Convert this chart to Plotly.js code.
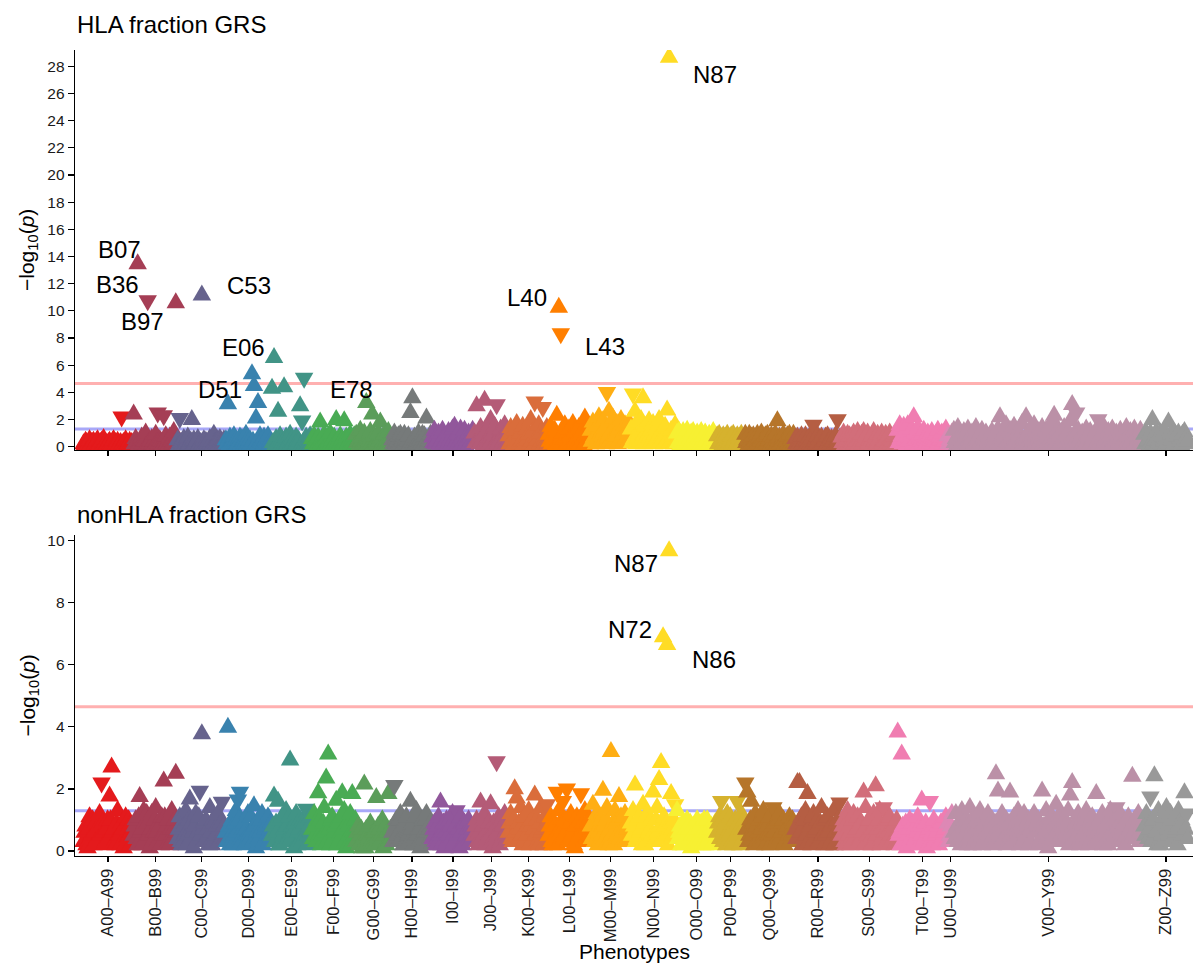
<!DOCTYPE html>
<html>
<head>
<meta charset="utf-8">
<script src="https://cdn.plot.ly/plotly-3.0.1.min.js"></script>
<style>
  html, body { margin: 0; padding: 0; background: #ffffff; }
  #chart { width: 1193px; height: 963px; }
</style>
</head>
<body>
<div id="chart"></div>
<script>
// ICD-10 chapter blocks along the x axis, in order
const chapters = ["A00–A99","B00–B99","C00–C99","D00–D99","E00–E99","F00–F99","G00–G99",
  "H00–H99","I00–I99","J00–J99","K00–K99","L00–L99","M00–M99","N00–N99","O00–O99",
  "P00–P99","Q00–Q99","R00–R99","S00–S99","T00–T99","U00–U99","V00–Y99","Z00–Z99"];

// number of phenotypes tested in each chapter
const chapterSize = [50,44,48,46,40,44,36,40,42,34,40,42,40,46,40,28,50,46,56,50,6,190,44];

// -log10(p) per phenotype, ICD order within each chapter.
// A negative sign marks a negative effect estimate (drawn as a downward triangle).

// HLA fraction GRS
const hlaA = [0.2,0.1,0.4,0.3,0.1,0.2,0.5,0.1,0.3,0.3,0.4,0.1,0.2,0.4,0.5,0.2,0.1,0.3,0.4,0.1,0.6,0.2,0.3,0.1,0.2,0.3,
              0.4,0.2,0.1,0.4,0.5,0.1,0.3,0.2,0.4,0.1,0.2,0.3,-2.2,0.2,0.3,0.1,0.5,0.3,0.2,0.2,0.4,0.1,0.3,0.2];
const hlaB = [2.4,0.2,0.6,0.4,13.46,0.1,0.3,0.3,0.7,0.2,0.5,0.4,1.0,0.1,-10.75,0.3,0.2,0.4,0.6,0.2,0.4,0.1,0.9,0.3,
              -2.5,0.2,0.5,0.4,0.2,0.1,-2.3,0.3,0.8,0.2,0.3,0.1,0.7,0.4,0.4,0.2,1.1,0.3,10.59,0.1];
const hlaC = [0.5,0.1,-2.1,0.3,0.3,0.2,0.6,0.1,0.4,0.3,0.7,0.2,0.2,0.4,2.0,0.1,0.5,0.2,0.3,0.4,0.6,0.1,0.2,0.3,
              11.15,0.2,0.5,0.1,0.4,0.3,0.2,0.4,0.6,0.2,0.4,0.1,0.9,0.3,0.3,0.2,0.5,0.1,0.6,0.4,0.3,0.2,0.5,0.1];
const hlaD = [0.5,0.2,3.15,0.1,0.7,0.3,0.3,0.4,0.8,0.1,0.5,0.2,0.2,0.3,0.7,0.1,0.6,0.4,0.4,0.2,0.9,0.1,0.6,0.3,
              0.5,0.2,5.36,0.4,4.5,0.1,2.1,0.3,3.25,0.2,0.8,0.4,0.3,0.1,0.7,0.2,0.5,0.3,0.8,0.1,0.4,0.2];
const hlaE = [4.3,0.3,6.55,0.1,0.6,0.2,2.6,0.4,0.8,0.1,0.5,0.3,4.4,0.2,0.7,0.1,0.3,0.4,0.9,0.2,
              0.6,0.3,0.4,0.1,0.7,0.2,0.5,0.4,3.0,0.1,-1.9,0.3,-5.06,0.2,0.7,0.1,0.4,0.3,0.8,0.2];
const hlaF = [0.6,0.2,0.8,0.4,0.3,0.1,0.7,0.3,1.8,0.2,0.5,0.4,0.9,0.1,0.6,0.3,0.2,0.4,1.0,0.2,0.5,0.1,
              0.7,0.3,2.0,0.2,0.4,0.1,0.8,0.4,0.5,0.2,1.9,0.3,0.7,0.1,0.3,0.4,0.9,0.2,0.5,0.3,0.8,0.1];
const hlaG = [0.9,0.3,0.4,0.1,1.2,0.4,0.7,0.2,1.0,0.3,3.25,0.1,0.5,0.4,1.1,0.2,2.4,0.1,
              0.8,0.3,0.3,0.2,1.0,0.4,1.8,0.1,0.6,0.3,0.9,0.2,0.4,0.1,1.1,0.4,0.7,0.2];
const hlaH = [0.5,0.2,1.0,0.1,0.3,0.4,0.8,0.2,0.9,0.3,0.4,0.1,0.9,0.2,0.6,0.4,0.8,0.1,2.5,0.3,
              3.6,0.2,0.7,0.1,0.2,0.4,1.0,0.3,0.5,0.2,0.9,0.1,0.8,0.3,2.1,0.2,0.4,0.4,0.9,0.1];
const hlaI = [0.7,0.3,1.2,0.2,0.4,0.5,1.0,0.1,0.3,0.4,1.2,0.2,0.8,0.3,0.5,0.1,1.1,0.4,0.6,0.2,1.3,
              0.5,1.5,0.3,0.4,0.1,0.9,0.4,1.3,0.2,0.6,0.3,1.2,0.1,0.3,0.5,1.0,0.2,0.7,0.4,1.2,0.3];
const hlaJ = [1.0,0.3,3.0,0.5,0.5,0.2,1.4,0.4,0.8,0.1,3.4,0.3,1.2,0.5,0.4,0.2,2.0,
              0.4,0.9,0.1,1.5,0.3,-3.1,0.2,0.6,0.5,1.3,0.1,0.8,0.4,1.6,0.2,1.1,0.3];
const hlaK = [0.8,0.2,1.4,0.4,0.5,0.1,1.2,0.5,1.7,0.3,0.6,0.2,1.0,0.4,1.5,0.1,0.4,0.3,1.3,0.5,
              0.9,0.2,2.0,0.4,1.1,0.1,-3.3,0.3,0.7,0.5,1.6,0.2,1.0,0.4,-2.9,0.1,0.5,0.3,1.4,0.2];
const hlaL = [0.9,0.4,1.5,0.2,0.6,0.5,1.2,0.1,2.3,0.3,10.26,0.4,-8.32,0.2,1.0,0.5,1.6,0.1,0.5,0.3,1.3,
              0.4,0.8,0.2,1.7,0.1,1.1,0.5,0.6,0.3,1.4,0.2,0.9,0.4,1.2,0.1,2.1,0.3,0.7,0.5,1.5,0.2];
const hlaM = [1.2,0.4,1.8,0.7,0.7,0.2,1.5,0.6,2.2,0.3,1.0,0.8,1.9,0.5,1.4,0.2,-4.0,0.7,2.6,0.4,
              1.1,0.6,2.1,0.3,0.8,0.8,1.7,0.2,1.3,0.5,2.0,0.7,0.9,0.3,1.6,0.6,1.2,0.4,1.8,0.5];
const hlaN = [1.3,0.3,-3.9,0.6,2.6,0.2,1.8,0.7,1.0,0.4,2.0,0.5,3.6,0.2,1.5,0.6,0.7,0.3,1.9,0.7,1.2,0.4,1.7,
              0.2,0.9,0.5,1.4,0.6,2.0,0.3,1.1,0.7,0.6,0.2,1.5,0.4,2.7,0.6,28.66,0.3,1.2,0.5,0.8,0.2,1.6,0.4];
const hlaO = [1.0,0.3,1.1,0.1,0.6,0.4,1.1,0.2,0.9,0.5,1.2,0.3,0.5,0.1,1.0,0.4,1.1,0.2,0.7,0.3,
              1.0,0.5,0.4,0.1,1.1,0.3,0.8,0.2,1.0,0.4,0.6,0.1,0.9,0.3,0.8,0.5,1.1,0.2,0.5,0.3];
const hlaP = [0.8,0.2,0.9,0.4,0.5,0.1,0.8,0.3,0.7,0.2,0.9,0.1,0.4,0.4,
              0.8,0.2,0.9,0.3,0.6,0.1,0.8,0.4,0.7,0.2,0.9,0.3,0.5,0.1];
const hlaQ = [0.9,0.3,0.5,0.1,0.9,0.4,0.7,0.2,0.8,0.3,0.4,0.1,0.9,0.2,0.7,0.4,1.0,0.1,0.6,0.3,0.8,0.2,0.9,0.4,0.5,
              0.1,0.8,0.3,0.7,0.2,0.9,0.1,1.9,0.4,0.7,0.2,0.4,0.3,0.9,0.1,0.6,0.4,0.8,0.2,0.9,0.1,0.5,0.3,0.9,0.2];
const hlaR = [0.6,0.2,0.7,0.1,0.4,0.3,0.8,0.2,0.3,0.4,0.8,0.1,0.5,0.3,0.7,0.2,0.6,0.1,-1.6,0.4,0.4,0.2,0.8,
              0.3,0.6,0.1,0.7,0.2,0.3,0.4,0.7,0.1,0.8,0.3,0.5,0.2,0.6,0.4,0.4,0.1,0.8,0.2,-2.0,0.3,0.6,0.1];
const hlaS = [0.7,0.3,1.0,0.1,0.5,0.4,0.9,0.2,0.8,0.1,0.4,0.3,1.0,0.2,0.7,0.4,1.1,0.1,0.6,0.3,0.9,0.2,1.1,0.4,0.7,0.1,1.0,0.2,
              0.5,0.3,0.8,0.1,1.1,0.4,0.7,0.2,0.9,0.3,0.6,0.1,1.0,0.2,0.4,0.4,0.9,0.1,0.7,0.3,1.0,0.2,0.5,0.4,0.8,0.1,0.9,0.3];
const hlaT = [1.2,0.3,1.6,0.6,0.8,0.2,1.5,0.5,1.1,0.1,1.6,0.4,0.7,0.6,1.3,0.2,2.2,0.3,1.0,0.5,1.4,0.1,0.6,0.4,0.9,
              0.2,1.2,0.6,0.5,0.3,1.0,0.1,0.8,0.5,1.1,0.2,0.6,0.4,0.9,0.1,1.2,0.3,0.7,0.5,1.0,0.2,0.5,0.4,1.3,0.1];
const hlaU = [0.8,0.2,0.5,0.3,1.0,0.1];
const hlaV = [1.2,0.3,0.6,0.1,1.4,0.4,0.9,0.2,0.3,0.5,1.1,0.1,0.7,0.3,1.3,0.2,0.5,0.4,1.0,0.1,
              0.8,0.2,1.4,0.5,0.4,0.1,0.9,0.3,1.2,0.2,0.6,0.4,1.0,0.1,0.3,0.5,0.8,0.3,1.1,0.2,
              0.5,0.4,0.9,0.1,1.3,0.3,2.2,0.2,0.7,0.5,1.0,0.1,1.6,0.4,0.4,0.3,1.2,0.1,0.8,0.2,
              1.5,0.3,0.6,0.5,1.1,0.1,0.9,0.4,1.7,0.2,0.5,0.3,2.2,0.1,1.0,0.5,1.3,0.2,0.7,0.4,
              1.6,0.1,0.4,0.3,1.1,0.2,0.8,0.5,1.4,0.1,0.6,0.4,1.2,0.2,0.9,0.3,1.5,0.1,1.8,0.4,
              2.3,0.2,0.7,0.4,1.3,0.1,1.0,0.3,0.5,0.5,1.4,0.2,0.8,0.1,1.1,0.4,1.9,0.3,3.1,0.1,
              0.9,0.4,-2.5,0.2,1.2,0.5,0.6,0.1,1.0,0.3,0.4,0.2,1.3,0.4,0.8,0.1,1.1,0.3,0.5,0.5,
              0.9,0.1,1.2,0.3,-2.0,0.2,0.7,0.4,1.0,0.1,1.4,0.5,0.6,0.2,1.1,0.3,0.8,0.1,1.3,0.4,
              0.4,0.3,1.0,0.1,0.7,0.4,1.2,0.2,0.9,0.5,0.5,0.1,1.4,0.3,0.8,0.2,1.1,0.4,0.6,0.1,
              1.3,0.2,0.9,0.4,0.5,0.1,1.2,0.3,0.7,0.2];
const hlaZ = [0.9,0.2,1.0,0.4,0.5,0.1,1.0,0.3,2.0,0.2,0.7,0.5,1.1,0.1,0.4,0.3,1.0,0.2,0.8,0.4,1.1,0.1,
              0.6,0.3,1.8,0.2,0.9,0.5,0.5,0.1,1.0,0.3,0.8,0.2,1.0,0.4,0.4,0.1,0.9,0.3,1.1,0.2,0.7,0.4];

// nonHLA fraction GRS
const nhA = [0.3,0.6,0.8,0.2,0.1,0.7,1.1,0.4,0.5,1.0,0.2,0.6,0.9,0.3,0.4,0.8,1.2,0.5,-2.2,0.9,0.6,0.2,0.3,0.7,1.0,
             0.4,1.77,1.0,2.7,0.6,0.7,0.3,0.2,0.9,1.3,0.5,0.5,0.2,0.9,0.7,0.1,0.8,1.1,0.4,0.4,1.0,0.8,0.2,0.6,0.5];
const nhB = [0.5,0.8,1.0,0.4,0.2,1.1,1.75,0.6,0.7,0.2,1.3,0.9,0.4,1.2,0.9,0.5,0.1,0.7,1.2,0.3,0.6,1.0,
             1.4,0.6,0.3,0.9,0.8,0.2,1.1,0.5,2.25,1.1,0.5,0.8,1.0,0.3,0.2,0.7,1.3,0.4,0.7,1.0,2.5,0.6];
const nhC = [0.4,0.7,1.1,0.3,0.2,0.9,0.8,0.5,1.3,0.2,0.5,1.0,1.67,0.4,0.9,0.6,0.1,0.8,1.2,0.3,0.6,1.1,-1.93,0.5,
             3.77,0.7,0.3,0.9,1.0,0.4,0.7,0.2,1.4,0.6,0.2,1.0,0.9,0.5,0.5,0.8,1.2,0.3,0.3,0.9,-1.58,0.6,0.8,0.4];
const nhD = [0.6,0.3,3.98,0.8,0.2,0.5,1.0,0.2,0.5,0.9,1.3,0.6,-1.65,1.0,-1.9,0.4,0.3,0.7,0.9,0.2,0.7,0.5,1.2,
             0.5,0.4,1.1,0.7,0.3,1.45,0.8,0.1,0.6,1.0,0.4,0.6,1.0,1.2,0.2,0.3,0.7,0.8,0.5,1.1,0.3,0.5,0.9];
const nhE = [0.5,0.8,1.77,0.3,0.9,0.6,1.6,0.2,0.2,1.0,1.1,0.5,0.7,0.3,1.3,0.8,0.4,1.1,2.93,0.4,
             0.8,0.6,0.1,0.9,1.2,0.2,0.6,0.7,1.0,0.4,0.3,1.0,0.9,0.5,-1.35,0.2,0.5,0.8,1.1,0.6];
const nhF = [0.7,0.4,1.2,0.8,0.3,1.0,1.87,0.5,1.0,0.2,0.5,0.9,1.4,0.6,2.35,0.3,3.12,0.7,0.2,1.0,1.1,0.4,
             0.6,0.8,1.63,0.2,0.9,0.5,0.4,1.1,1.87,0.7,1.3,0.3,0.1,0.9,0.8,0.5,1.2,0.2,1.85,0.6,0.5,1.0];
const nhG = [0.3,0.6,0.8,0.2,0.5,0.7,0.1,0.4,2.15,0.1,0.7,0.5,0.4,0.8,0.9,0.3,0.2,0.6,
             0.6,0.2,1.72,0.4,0.8,0.7,0.3,0.5,1.0,0.1,0.5,0.8,0.2,0.6,1.85,0.3,0.7,0.4];
const nhH = [0.6,0.3,-2.12,0.8,1.0,0.5,0.3,1.0,1.2,0.4,0.8,0.2,0.2,0.9,1.1,0.6,0.5,0.3,1.6,0.7,
             0.9,0.2,0.4,1.1,1.3,0.5,0.7,0.3,0.1,0.8,1.0,0.4,0.6,1.0,1.2,0.6,0.3,0.7,0.9,0.2];
const nhI = [0.4,0.7,0.9,0.3,0.2,0.8,1.1,0.5,1.57,0.2,0.6,0.9,0.1,0.6,1.0,0.3,0.5,1.0,0.8,0.4,1.2,
             0.2,0.3,0.8,-1.3,0.5,0.7,0.1,1.1,0.6,0.2,0.9,0.9,0.3,0.5,0.7,1.0,0.4,0.3,0.8,0.7,0.5];
const nhJ = [0.5,0.8,1.0,0.3,0.2,0.6,1.57,0.4,0.8,1.0,1.2,0.2,0.4,0.7,0.9,0.5,1.52,
             0.3,0.1,0.9,0.7,0.4,-2.88,0.6,1.1,0.2,0.3,1.0,0.8,0.5,1.2,0.3,0.5,0.7];
const nhK = [0.6,0.9,1.2,0.4,0.3,1.0,2.0,0.6,1.7,0.3,0.9,0.7,1.4,0.5,0.2,1.1,1.1,0.4,0.5,0.8,
             1.3,0.2,0.8,1.0,0.4,0.7,1.8,0.5,1.0,0.3,0.2,0.9,1.4,0.6,0.7,0.2,1.1,0.8,-1.5,0.5];
const nhL = [0.5,0.8,1.1,0.3,0.2,0.9,0.8,0.5,-1.9,0.2,1.3,0.7,0.6,1.0,-1.6,0.4,1.0,0.6,-2.0,0.3,0.3,
             0.9,1.2,0.5,0.7,0.2,0.1,0.8,1.1,0.4,0.5,1.0,-1.85,0.6,0.9,0.3,1.3,0.7,0.4,0.9,1.0,0.5];
const nhM = [0.8,0.4,1.5,0.9,0.3,0.6,1.2,0.2,0.6,1.1,1.0,0.5,1.95,0.8,0.4,1.0,1.4,0.3,0.2,0.7,
             3.2,0.5,0.9,0.2,1.3,0.9,0.5,1.0,1.75,0.4,1.1,0.6,0.3,1.1,1.2,0.3,0.7,0.8,1.0,0.5];
const nhN = [0.9,0.5,1.3,0.8,2.12,0.3,0.4,1.0,1.1,0.6,0.7,0.2,1.5,0.9,0.2,1.1,1.2,0.4,0.6,0.7,1.0,0.5,1.9,
             0.3,0.3,1.0,1.4,0.6,2.3,0.8,2.85,0.4,6.9,1.1,0.8,0.5,6.65,0.2,9.67,0.9,1.85,0.7,0.5,1.0,-1.5,0.4];
const nhO = [1.3,0.4,0.6,0.8,0.2,0.5,0.9,0.2,0.4,0.7,1.0,0.3,0.7,0.9,0.1,0.5,0.8,0.2,0.5,0.7,
             1.0,0.4,0.3,0.8,0.9,0.2,0.6,1.0,0.2,0.6,1.0,0.3,0.4,0.7,0.8,0.2,0.5,0.8,0.9,0.4];
const nhP = [0.6,0.9,1.1,0.4,-1.6,1.0,0.3,0.7,0.9,0.2,1.2,0.6,0.5,1.1,
             0.8,0.3,0.2,0.8,1.0,0.5,-1.6,0.9,0.7,0.2,1.2,0.7,0.4,1.0];
const nhQ = [-2.2,0.7,1.9,0.3,0.5,1.0,1.6,0.5,0.9,0.2,1.2,0.8,0.3,0.6,1.0,0.3,0.7,1.1,1.3,0.4,0.2,0.9,0.8,0.5,1.1,
             0.2,0.5,0.8,-1.4,0.6,0.9,0.3,0.4,1.0,1.2,0.4,0.6,0.9,1.0,0.2,0.3,0.7,0.8,0.5,1.1,0.3,0.5,1.0,0.9,0.6];
const nhR = [0.7,0.4,2.2,0.9,2.2,0.6,1.1,0.2,0.4,1.0,1.3,0.5,1.85,0.3,0.8,0.8,0.2,1.1,1.2,0.4,0.6,0.7,1.0,
             0.3,0.3,0.9,1.4,0.5,0.9,0.2,0.5,1.0,1.1,0.6,0.2,0.8,0.8,0.4,1.3,0.2,0.6,0.9,1.0,0.5,-1.55,0.7];
const nhS = [0.5,0.8,1.0,0.3,0.2,0.9,1.3,0.5,0.8,0.2,0.4,1.0,1.2,0.4,0.6,0.7,1.1,0.3,0.3,0.9,0.9,0.6,1.9,0.2,1.4,0.8,0.5,1.0,
             1.0,0.4,0.2,0.7,1.2,0.3,2.1,0.5,0.7,1.0,1.3,0.2,0.4,0.8,-1.4,0.6,0.9,0.3,0.6,1.0,1.1,0.5,0.3,0.8,0.8,0.2,0.5,1.0];
const nhT = [3.83,0.5,0.6,0.2,3.12,0.8,0.3,0.6,0.9,0.1,0.5,0.7,1.0,0.4,0.2,0.9,0.7,0.3,0.4,0.6,1.1,0.2,0.8,0.5,1.64,
             0.8,0.3,0.4,0.9,0.1,0.6,0.7,-1.6,0.5,0.2,0.8,1.0,0.3,0.5,0.6,0.8,0.2,0.3,0.9,0.9,0.4,0.6,0.7,1.1,0.3];
const nhU = [0.9,0.3,0.5,0.8,1.2,0.6];
const nhV = [0.6,0.4,1.2,0.8,0.3,0.6,0.9,0.2,1.3,0.7,0.5,1.0,1.0,0.3,0.2,0.9,1.4,0.5,0.7,0.2,
             1.1,0.7,0.4,1.0,0.8,0.3,1.3,0.6,0.2,0.9,0.9,0.4,0.6,1.0,1.2,0.5,0.3,0.8,1.0,0.2,
             0.5,0.9,2.48,0.3,1.93,0.6,0.8,1.0,1.2,0.4,0.4,0.8,1.0,0.2,0.6,0.9,1.9,0.5,0.3,0.7,
             1.1,0.4,0.7,1.0,1.3,0.5,0.2,0.8,0.9,0.3,1.2,0.6,0.5,0.9,1.0,0.2,0.3,0.7,0.8,1.0,
             1.2,0.6,0.6,0.9,1.0,0.2,0.4,0.8,1.93,0.5,0.8,0.3,1.3,0.7,0.1,1.0,0.9,0.4,1.1,0.6,
             0.5,0.9,1.5,0.3,0.7,1.0,1.2,0.5,0.3,0.8,1.0,0.4,0.6,0.9,1.3,0.2,1.8,0.6,2.2,0.8,
             0.4,0.7,0.9,0.5,1.2,0.3,0.2,0.9,1.0,0.6,0.6,1.0,1.3,0.4,0.8,0.2,0.3,0.8,1.1,0.5,
             0.7,0.3,1.85,0.6,0.4,0.9,1.0,0.5,1.2,0.2,0.5,0.8,0.9,0.4,0.2,1.0,1.3,0.6,0.6,0.3,
             1.0,0.5,-1.4,0.8,0.8,0.3,1.2,0.6,0.3,0.9,0.9,0.2,0.5,1.0,1.1,0.4,0.7,0.8,2.4,0.5,
             1.0,0.7,0.4,0.9,1.2,0.3,0.6,0.8,0.9,0.5];
const nhZ = [0.8,0.5,1.2,0.9,0.4,0.7,-1.75,0.3,1.0,1.0,2.42,0.6,0.6,0.2,1.3,0.8,0.2,0.5,0.9,1.1,1.1,0.4,
             1.4,0.7,0.5,0.9,1.2,0.3,0.3,1.0,1.0,0.6,0.7,0.2,1.3,0.8,0.4,1.0,0.9,0.5,1.87,0.7,-1.2,0.4];

const hlaValues = [hlaA,hlaB,hlaC,hlaD,hlaE,hlaF,hlaG,hlaH,hlaI,hlaJ,hlaK,hlaL,hlaM,hlaN,hlaO,hlaP,hlaQ,hlaR,hlaS,hlaT,hlaU,hlaV,hlaZ];
const nonhlaValues = [nhA,nhB,nhC,nhD,nhE,nhF,nhG,nhH,nhI,nhJ,nhK,nhL,nhM,nhN,nhO,nhP,nhQ,nhR,nhS,nhT,nhU,nhV,nhZ];

// Labelled phenotypes: [code, chapter index, position within chapter]
const hlaLabels = [["B07",1,4],["B36",1,14],["B97",1,42],["C53",2,24],["D51",3,26],
                   ["E06",4,2],["E78",4,32],["L40",11,10],["L43",11,12],["N87",13,38]];
const nonhlaLabels = [["N72",13,32],["N86",13,36],["N87",13,38]];

// Significance thresholds on the -log10(p) scale
const bonferroniLine = 4.65;
const nominalLine = 1.3;

// ---------- styling ----------
const chapterColor = ["#E41A1C","#A53E55","#66638D","#3982AE","#419486","#49AB54","#5B9D5A",
  "#767A7A","#91579B","#B45B77","#DA6D3B","#FF7F00","#FFAE13","#FFDC25","#F7F032","#D6B22E",
  "#B6752A","#B55E43","#D26E7A","#F07DB1","#DD88B5","#BB90A7","#999999"];

const FONT = "Liberation Sans, Arial, Helvetica, sans-serif";
const W = 1193, H = 963;
const plotLeft = 75;
const topPanel = {top: 50, bottom: 450};
const bottomPanel = {top: 535, bottom: 856};
const markerSize = 15;
// triangle glyph drawn equilateral (width, height in px), centred on its centroid
const TRI_W = 18.5, TRI_H = 16;

// label offsets from their point, in px (right, down)
const hlaLabelOffset = {B07:[-18,-14], B36:[-30,-16], B97:[-33,19], C53:[47,-10], D51:[-32,16],
                        E06:[-31,-10], E78:[47,12], L40:[-32,-10], L43:[44,13], N87:[46,17]};
const nonhlaLabelOffset = {N72:[-33,-7], N86:[47,15], N87:[-33,13]};

// ---------- build ----------
const starts = [];
let acc = 0;
chapterSize.forEach(n => { starts.push(acc); acc += n; });
const centers = starts.map((s, k) => s + chapterSize[k] / 2);

function xPositions(k, vals) {
  const step = chapterSize[k] / vals.length;
  return vals.map((v, i) => starts[k] + (i + 0.5) * step);
}

const traces = [];
function addPanel(valuesByChapter, xa, ya) {
  valuesByChapter.forEach((vals, k) => {
    traces.push({
      type: "scatter", mode: "markers", xaxis: xa, yaxis: ya,
      x: xPositions(k, vals),
      y: vals.map(v => Math.abs(v)),
      marker: {
        symbol: vals.map(v => v < 0 ? "triangle-down" : "triangle-up"),
        size: markerSize,
        color: chapterColor[k],
        line: {width: 0}
      },
      cliponaxis: true, hoverinfo: "skip", showlegend: false
    });
  });
}
addPanel(hlaValues, "x", "y");
addPanel(nonhlaValues, "x2", "y2");

const annotations = [];
function addLabels(list, valuesByChapter, xa, ya, offsets) {
  list.forEach(([code, k, i]) => {
    const vals = valuesByChapter[k];
    const [dx, dy] = offsets[code];
    annotations.push({
      xref: xa, yref: ya, x: xPositions(k, vals)[i], y: Math.abs(vals[i]),
      text: code, showarrow: false, xanchor: "center", yanchor: "middle",
      xshift: dx, yshift: -dy, font: {family: FONT, size: 24, color: "#000000"}
    });
  });
}
addLabels(hlaLabels, hlaValues, "x", "y", hlaLabelOffset);
addLabels(nonhlaLabels, nonhlaValues, "x2", "y2", nonhlaLabelOffset);

const py = p => (H - p) / H;
const px = p => p / W;

// panel titles, y titles, x title
annotations.push(
  {xref:"paper", yref:"paper", x:px(plotLeft), y:py(25), xanchor:"left", yanchor:"middle",
   text:"HLA fraction GRS", showarrow:false, font:{family:FONT, size:24, color:"#000"}},
  {xref:"paper", yref:"paper", x:px(plotLeft), y:py(514), xanchor:"left", yanchor:"middle",
   text:"nonHLA fraction GRS", showarrow:false, font:{family:FONT, size:24, color:"#000"}},
  {xref:"paper", yref:"paper", x:px(28), y:py((topPanel.top+topPanel.bottom)/2), textangle:-90,
   xanchor:"center", yanchor:"middle", text:"−log<sub>10</sub>(<i>p</i>)", showarrow:false,
   font:{family:FONT, size:21, color:"#000"}},
  {xref:"paper", yref:"paper", x:px(28), y:py((bottomPanel.top+bottomPanel.bottom)/2), textangle:-90,
   xanchor:"center", yanchor:"middle", text:"−log<sub>10</sub>(<i>p</i>)", showarrow:false,
   font:{family:FONT, size:21, color:"#000"}},
  {xref:"paper", yref:"paper", x:px((plotLeft+W)/2), y:py(951), xanchor:"center", yanchor:"middle",
   text:"Phenotypes", showarrow:false, font:{family:FONT, size:21, color:"#000"}}
);

function hline(xa, ya, yv, color) {
  return {type:"line", xref: xa + " domain", x0:0, x1:1, yref: ya, y0: yv, y1: yv,
          line:{color: color, width: 3}, layer:"below"};
}
const shapes = [
  hline("x", "y", nominalLine, "#A8A8F8"),
  hline("x", "y", bonferroniLine, "#FFB0B0"),
  hline("x2", "y2", nominalLine, "#A8A8F8"),
  hline("x2", "y2", bonferroniLine, "#FFB0B0")
];

const xRange = [-8, acc + 5];
const axisCommon = {
  showgrid:false, zeroline:false, showline:true, linecolor:"#000", linewidth:1.3,
  ticks:"outside", tickcolor:"#000", tickwidth:1.2, ticklen:5,
  tickfont:{family:FONT, size:15.5, color:"#1a1a1a"}
};
const layout = {
  width: W, height: H,
  margin: {l:0, r:0, t:0, b:0},
  paper_bgcolor:"#ffffff", plot_bgcolor:"#ffffff",
  font: {family: FONT},
  xaxis: Object.assign({}, axisCommon, {
    domain:[px(plotLeft), 1], range: xRange, anchor:"y",
    tickmode:"array", tickvals: centers, showticklabels:false
  }),
  yaxis: Object.assign({}, axisCommon, {
    domain:[py(topPanel.bottom), py(topPanel.top)], range:[-0.24, 29.2], anchor:"x",
    tickmode:"linear", tick0:0, dtick:2, ticklen:6
  }),
  xaxis2: Object.assign({}, axisCommon, {
    domain:[px(plotLeft), 1], range: xRange, anchor:"y2",
    tickmode:"array", tickvals: centers, ticktext: chapters, tickangle:-90,
    tickfont:{family:FONT, size:16.5, color:"#1a1a1a"}
  }),
  yaxis2: Object.assign({}, axisCommon, {
    domain:[py(bottomPanel.bottom), py(bottomPanel.top)], range:[-0.16, 10.18], anchor:"x2",
    tickmode:"linear", tick0:0, dtick:2, ticklen:6
  }),
  shapes: shapes,
  annotations: annotations
};

// Plotly's triangle glyph is flatter than an equilateral one; redraw each
// point's glyph as an equilateral triangle around the same centre.
function equilateralGlyphs(gd) {
  const hw = (TRI_W / 2).toFixed(2);
  const tip = (TRI_H * 2 / 3).toFixed(2);
  const base = (TRI_H / 3).toFixed(2);
  gd.querySelectorAll(".scatterlayer path.point").forEach(p => {
    const d = p.getAttribute("d") || "";
    const m = d.match(/L0,(-?[\d.]+)Z/);
    if (!m) return;
    const up = parseFloat(m[1]) < 0;
    p.setAttribute("d", up
      ? "M-" + hw + "," + base + "H" + hw + "L0,-" + tip + "Z"
      : "M-" + hw + ",-" + base + "H" + hw + "L0," + tip + "Z");
  });
}

Plotly.newPlot("chart", traces, layout, {staticPlot:true, displayModeBar:false})
  .then(gd => equilateralGlyphs(gd));
</script>
</body>
</html>
